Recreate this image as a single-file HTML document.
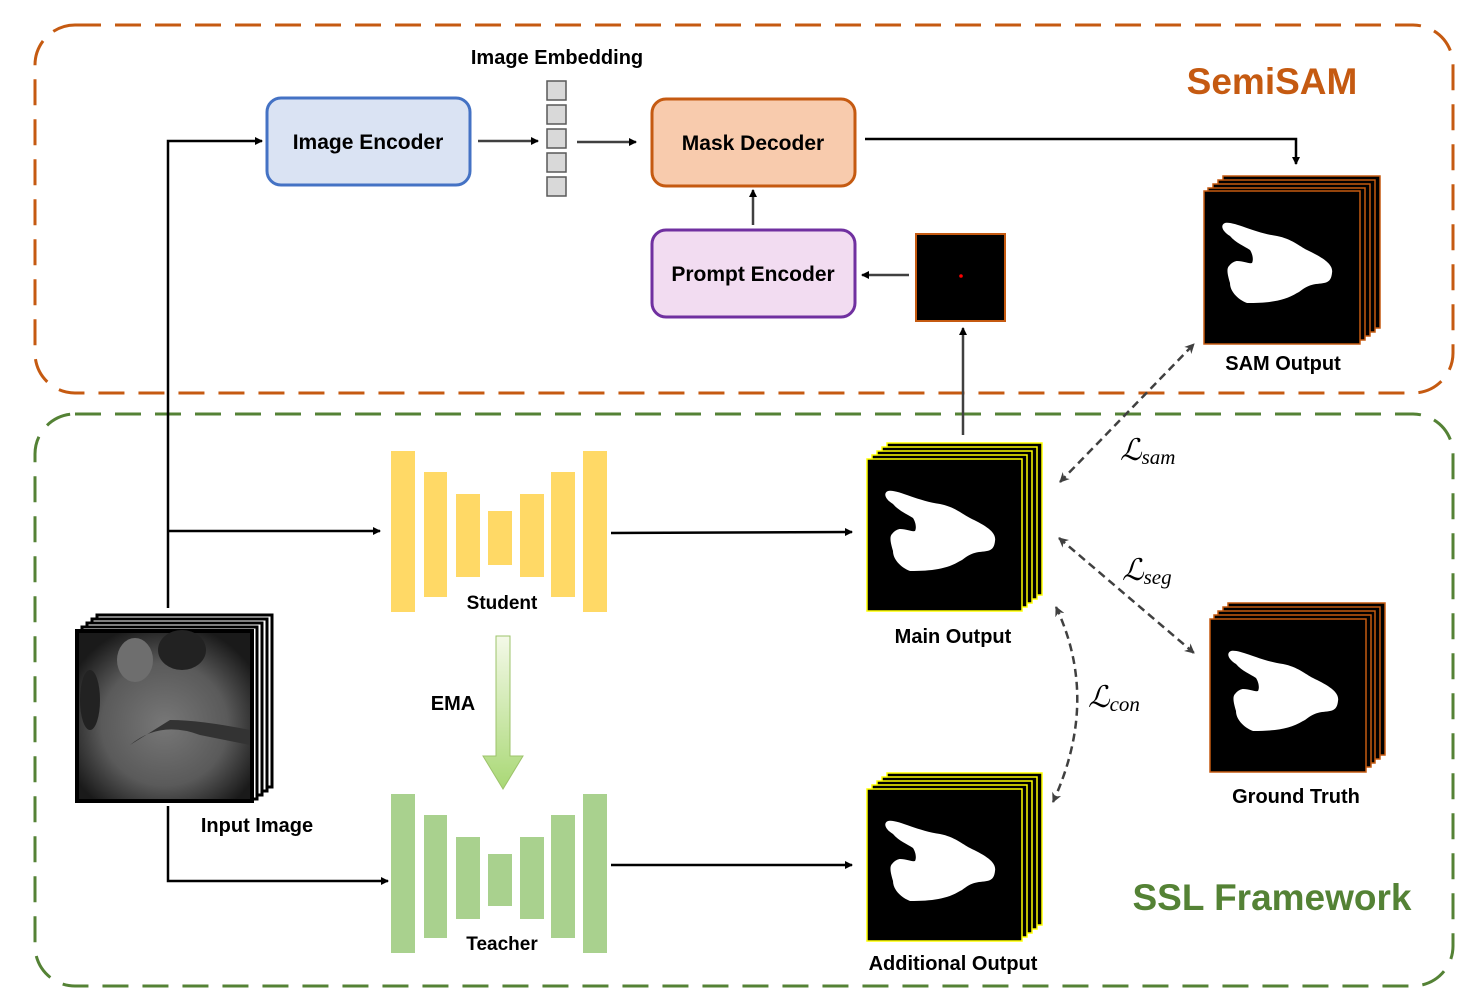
<!DOCTYPE html>
<html><head><meta charset="utf-8"><style>
html,body{margin:0;padding:0;background:#fff;width:1479px;height:996px;overflow:hidden}
text{font-family:"Liberation Sans",sans-serif;font-weight:bold}
.m{font-family:"Liberation Serif",serif;font-style:italic;font-weight:normal}
</style></head><body>
<svg width="1479" height="996" viewBox="0 0 1479 996" xmlns="http://www.w3.org/2000/svg">
<defs>
<marker id="ah" markerWidth="8" markerHeight="8" refX="7" refY="4" orient="auto" markerUnits="userSpaceOnUse"><path d="M0,0L8,4L0,8z" fill="#000"/></marker>
<marker id="ag" markerWidth="10" markerHeight="10" refX="9" refY="5" orient="auto-start-reverse" markerUnits="userSpaceOnUse"><path d="M0,0L10,5L0,10L3,5z" fill="#404040"/></marker>
<path id="blob" d="M21,32 C30,30 50,42 73,45 C88,48 95,55 103,59 C115,65 130,72 128,82 C127,92 122,92 112,93 C100,95 98,100 93,102 C80,110 65,112 43,112 C33,108 26,100 26,92 C24,85 22,78 25,75 C28,71 32,70 33,70 C40,70 45,73 48,72 C50,68 48,62 46,59 C40,55 32,52 26,45 C18,40 16,34 21,32Z" fill="#fff"/>
</defs>
<rect x="35" y="25" width="1418" height="368" rx="40" fill="none" stroke="#C55A11" stroke-width="3" stroke-dasharray="26,14"/>
<rect x="35" y="414" width="1418" height="572" rx="40" fill="none" stroke="#548235" stroke-width="3" stroke-dasharray="26,14"/>
<text x="1272" y="94" font-size="37" fill="#C55A11" text-anchor="middle">SemiSAM</text>
<text x="1272" y="910" font-size="37" fill="#548235" text-anchor="middle">SSL Framework</text>

<rect x="267" y="98" width="203" height="87" rx="14" fill="#DAE3F3" stroke="#4472C4" stroke-width="3"/>
<text x="368" y="149" font-size="21" text-anchor="middle">Image Encoder</text>
<rect x="652" y="99" width="203" height="87" rx="14" fill="#F8CBAD" stroke="#C55A11" stroke-width="3"/>
<text x="753" y="150" font-size="21" text-anchor="middle">Mask Decoder</text>
<rect x="652" y="230" width="203" height="87" rx="14" fill="#F2DCF1" stroke="#7030A0" stroke-width="3"/>
<text x="753" y="281" font-size="21" text-anchor="middle">Prompt Encoder</text>
<text x="557" y="64" font-size="20" text-anchor="middle">Image Embedding</text>
<g fill="#D9D9D9" stroke="#595959" stroke-width="1.5">
<rect x="547" y="81" width="19" height="19"/><rect x="547" y="105" width="19" height="19"/><rect x="547" y="129" width="19" height="19"/><rect x="547" y="153" width="19" height="19"/><rect x="547" y="177" width="19" height="19"/></g>

<rect x="916" y="234" width="89" height="87" fill="#000" stroke="#C55A11" stroke-width="2"/>
<circle cx="961" cy="276" r="1.8" fill="#f00"/>

<g stroke="#404040" stroke-width="2.5" fill="none">
<line x1="478" y1="141" x2="538" y2="141" marker-end="url(#ah)"/>
<line x1="577" y1="142" x2="636" y2="142" marker-end="url(#ah)"/>
<line x1="753" y1="225" x2="753" y2="190" marker-end="url(#ah)"/>
<line x1="909" y1="275" x2="862" y2="275" marker-end="url(#ah)"/>
<line x1="963" y1="435" x2="963" y2="328" marker-end="url(#ah)"/>
</g>
<g stroke="#000" stroke-width="2.5" fill="none">
<polyline points="865,139 1296,139 1296,164" marker-end="url(#ah)"/>
<polyline points="168,608 168,141 262,141" marker-end="url(#ah)"/>
<line x1="168" y1="531" x2="380" y2="531" marker-end="url(#ah)"/>
<polyline points="168,806 168,881 388,881" marker-end="url(#ah)"/>
<line x1="611" y1="533" x2="852" y2="532" marker-end="url(#ah)"/>
<line x1="611" y1="865" x2="852" y2="865" marker-end="url(#ah)"/>
</g>

<g fill="#FFD966">
<rect x="391" y="451" width="24" height="161"/><rect x="424" y="472" width="23" height="125"/><rect x="456" y="494" width="24" height="83"/><rect x="488" y="511" width="24" height="54"/><rect x="520" y="494" width="24" height="83"/><rect x="551" y="472" width="24" height="125"/><rect x="583" y="451" width="24" height="161"/></g>
<text x="502" y="609" font-size="19" text-anchor="middle">Student</text>
<g fill="#A9D18E">
<rect x="391" y="794" width="24" height="159"/><rect x="424" y="815" width="23" height="123"/><rect x="456" y="837" width="24" height="82"/><rect x="488" y="854" width="24" height="52"/><rect x="520" y="837" width="24" height="82"/><rect x="551" y="815" width="24" height="123"/><rect x="583" y="794" width="24" height="159"/></g>
<text x="502" y="950" font-size="19" text-anchor="middle">Teacher</text>
<defs><linearGradient id="ema" x1="0" y1="0" x2="0" y2="1"><stop offset="0" stop-color="#F4F9E8"/><stop offset="1" stop-color="#A9D875"/></linearGradient></defs>
<path d="M496,636 H510 V756 H523 L503,789 L483,756 H496Z" fill="url(#ema)" stroke="#9DC36B" stroke-width="1"/>
<text x="453" y="710" font-size="20" text-anchor="middle">EMA</text>

<g fill="#fff" stroke="#000" stroke-width="3">
<rect x="97" y="615" width="175" height="172"/><rect x="92" y="619" width="175" height="172"/><rect x="87" y="623" width="175" height="172"/><rect x="82" y="627" width="175" height="172"/></g>
<defs><radialGradient id="mri" cx="0.5" cy="0.55" r="0.6"><stop offset="0" stop-color="#777"/><stop offset="0.6" stop-color="#5a5a5a"/><stop offset="1" stop-color="#1a1a1a"/></radialGradient></defs>
<rect x="77" y="631" width="175" height="170" fill="url(#mri)" stroke="#000" stroke-width="4"/>
<ellipse cx="135" cy="660" rx="18" ry="22" fill="#6e6e6e"/>
<ellipse cx="182" cy="650" rx="24" ry="20" fill="#222"/>
<ellipse cx="90" cy="700" rx="10" ry="30" fill="#222"/>
<path d="M130,745 Q160,720 200,735 L250,745 L250,730 Q200,720 170,720Z" fill="#333"/>
<text x="257" y="832" font-size="20" text-anchor="middle">Input Image</text>

<g stroke="#FFFF00" stroke-width="1.5" fill="#000">
<rect x="887" y="443" width="155" height="152"/><rect x="882" y="447" width="155" height="152"/><rect x="877" y="451" width="155" height="152"/><rect x="872" y="455" width="155" height="152"/><rect x="867" y="459" width="155" height="152"/></g>
<use href="#blob" x="867" y="459"/>
<text x="953" y="643" font-size="20" text-anchor="middle">Main Output</text>

<g stroke="#FFFF00" stroke-width="1.5" fill="#000">
<rect x="887" y="773" width="155" height="152"/><rect x="882" y="777" width="155" height="152"/><rect x="877" y="781" width="155" height="152"/><rect x="872" y="785" width="155" height="152"/><rect x="867" y="789" width="155" height="152"/></g>
<use href="#blob" x="867" y="789"/>
<text x="953" y="970" font-size="20" text-anchor="middle">Additional Output</text>

<g stroke="#C55A11" stroke-width="1.5" fill="#000">
<rect x="1223" y="176" width="157" height="152"/><rect x="1218" y="180" width="157" height="152"/><rect x="1213" y="184" width="157" height="152"/><rect x="1208" y="188" width="157" height="152"/><rect x="1204" y="191" width="156" height="153"/></g>
<use href="#blob" x="1204" y="191"/>
<text x="1283" y="370" font-size="20" text-anchor="middle">SAM Output</text>

<g stroke="#C55A11" stroke-width="1.5" fill="#000">
<rect x="1228" y="603" width="157" height="152"/><rect x="1223" y="607" width="157" height="152"/><rect x="1218" y="611" width="157" height="152"/><rect x="1214" y="615" width="157" height="152"/><rect x="1210" y="619" width="156" height="153"/></g>
<use href="#blob" x="1210" y="619"/>
<text x="1296" y="803" font-size="20" text-anchor="middle">Ground Truth</text>

<g stroke="#404040" stroke-width="2.5" fill="none" stroke-dasharray="8,5">
<line x1="1060" y1="482" x2="1194" y2="344" marker-start="url(#ag)" marker-end="url(#ag)"/>
<line x1="1059" y1="538" x2="1194" y2="653" marker-start="url(#ag)" marker-end="url(#ag)"/>
<path d="M1056,607 Q1100,700 1053,802" marker-start="url(#ag)" marker-end="url(#ag)"/>
</g>
<text class="m" x="1120" y="460" font-size="30">ℒ<tspan font-size="21" dy="4">sam</tspan></text>
<text class="m" x="1122" y="580" font-size="30">ℒ<tspan font-size="21" dy="4">seg</tspan></text>
<text class="m" x="1088" y="707" font-size="30">ℒ<tspan font-size="21" dy="4">con</tspan></text>
</svg>
</body></html>
